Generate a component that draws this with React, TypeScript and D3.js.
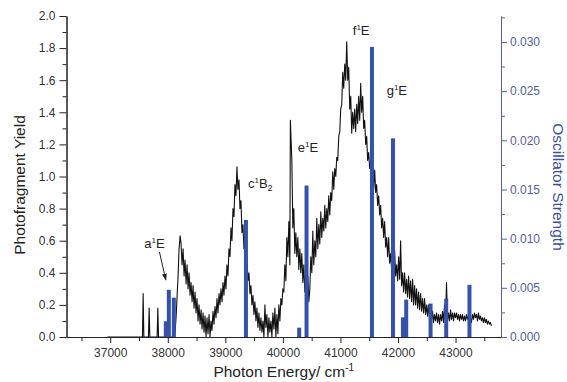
import { useEffect, useRef } from 'react'
import * as d3 from 'd3'

const W = 567
const H = 382
const PLOT = { l: 66.5, r: 501, t: 16, b: 337 }
const FONT = '"Liberation Sans", Arial, Helvetica, sans-serif'
const BLUE = '#3451ad'
const AXIS_BLUE = '#5560a4'

const X_MAJOR = [37000, 38000, 39000, 40000, 41000, 42000, 43000]
const X_MINOR = [36500, 37500, 38500, 39500, 40500, 41500, 42500, 43500]
const Y_MAJOR = [0, 0.2, 0.4, 0.6, 0.8, 1.0, 1.2, 1.4, 1.6, 1.8, 2.0]
const Y_MINOR = [0.1, 0.3, 0.5, 0.7, 0.9, 1.1, 1.3, 1.5, 1.7, 1.9]
const F_MAJOR = [0, 0.005, 0.01, 0.015, 0.02, 0.025, 0.03]
const F_MINOR = [0.0025, 0.0075, 0.0125, 0.0175, 0.0225, 0.0275, 0.0325]

// calculated transitions (energy in cm-1, oscillator strength)
const BAR_E = [37966, 38018, 38105, 39358, 40283, 40411, 41548, 41913, 42086, 42143, 42566, 42838, 43242]
const BAR_F = [0.0016, 0.0048, 0.004, 0.0119, 0.00095, 0.0154, 0.0295, 0.0202, 0.002, 0.0038, 0.0034, 0.0039, 0.0053]

// measured photofragment yield spectrum (energy, yield)
const SPECTRUM: [number, number][] = [
  [36950, 0], [37560, 0], [37572, 0.27], [37584, 0], [37664, 0], [37676, 0.18], [37688, 0],
  [37815, 0], [37827, 0.18], [37839, 0], [38120, 0],
  [38144, 0.12], [38161, 0.25], [38179, 0.38], [38196, 0.55], [38214, 0.63], [38231, 0.58], [38248, 0.45],
  [38266, 0.55], [38283, 0.38], [38300, 0.48], [38318, 0.33], [38335, 0.45], [38352, 0.3], [38370, 0.4],
  [38387, 0.26], [38404, 0.34], [38422, 0.22], [38439, 0.32], [38456, 0.18], [38474, 0.28], [38491, 0.15],
  [38508, 0.24], [38526, 0.1], [38543, 0.2], [38561, 0.08], [38578, 0.17], [38595, 0.05], [38613, 0.15],
  [38630, 0.03], [38647, 0.13], [38665, 0.0], [38682, 0.12], [38699, 0.02], [38717, 0.14], [38734, 0.0],
  [38751, 0.1], [38768, 0.04], [38786, 0.16], [38803, 0.08], [38820, 0.19], [38838, 0.12], [38855, 0.24],
  [38872, 0.15], [38890, 0.27], [38907, 0.2], [38924, 0.3], [38942, 0.22], [38959, 0.34], [38976, 0.26],
  [38994, 0.38], [39011, 0.3], [39028, 0.45], [39046, 0.38], [39063, 0.55], [39081, 0.5], [39098, 0.68],
  [39115, 0.6], [39133, 0.8], [39150, 0.75], [39167, 0.95], [39185, 0.88], [39202, 1.06], [39219, 0.92],
  [39237, 0.98], [39254, 0.8], [39271, 0.85], [39289, 0.65], [39306, 0.7], [39323, 0.55], [39341, 0.6],
  [39358, 0.45], [39375, 0.5], [39393, 0.35], [39410, 0.4], [39428, 0.27], [39445, 0.32], [39462, 0.2],
  [39480, 0.26], [39497, 0.14], [39514, 0.22], [39532, 0.1], [39549, 0.18], [39566, 0.06], [39584, 0.15],
  [39601, 0.04], [39618, 0.12], [39636, 0.03], [39653, 0.1], [39670, 0.0], [39688, 0.2], [39705, 0.06],
  [39722, 0.14], [39740, 0.0], [39757, 0.12], [39774, 0.03], [39792, 0.1], [39809, 0.0], [39826, 0.15],
  [39844, 0.05], [39861, 0.18], [39878, 0.0], [39896, 0.14], [39913, 0.02], [39930, 0.2], [39948, 0.1],
  [39965, 0.24], [39982, 0.2], [40000, 0.3], [40017, 0.28], [40034, 0.45], [40052, 0.35], [40069, 0.62],
  [40086, 0.5], [40104, 0.72], [40121, 0.45], [40130, 1.35], [40156, 1.1], [40173, 0.68], [40190, 0.8],
  [40208, 0.52], [40225, 0.65], [40242, 0.5], [40260, 0.62], [40277, 0.42], [40295, 0.55], [40312, 0.4],
  [40329, 0.52], [40347, 0.34], [40364, 0.45], [40381, 0.28], [40399, 0.42], [40416, 0.3], [40433, 0.38],
  [40451, 0.22], [40468, 0.3], [40485, 0.5], [40503, 0.4], [40520, 0.66], [40537, 0.45], [40555, 0.6],
  [40572, 0.5], [40589, 0.74], [40607, 0.55], [40624, 0.7], [40641, 0.58], [40659, 0.78], [40676, 0.62],
  [40693, 0.74], [40711, 0.66], [40728, 0.82], [40745, 0.68], [40763, 0.8], [40780, 0.72], [40797, 0.88],
  [40815, 0.76], [40832, 0.9], [40849, 0.85], [40867, 1.03], [40884, 0.92], [40901, 1.05], [40919, 1.0],
  [40936, 1.12], [40953, 1.1], [40971, 1.25], [40988, 1.28], [41005, 1.42], [41023, 1.45], [41040, 1.65],
  [41057, 1.55], [41075, 1.7], [41092, 1.6], [41109, 1.84], [41127, 1.6], [41144, 1.68], [41162, 1.42],
  [41179, 1.5], [41196, 1.27], [41213, 1.4], [41231, 1.3], [41248, 1.42], [41265, 1.28], [41283, 1.45],
  [41300, 1.33], [41317, 1.5], [41335, 1.35], [41352, 1.58], [41369, 1.4], [41387, 1.5], [41404, 1.3],
  [41421, 1.35], [41439, 1.2], [41456, 1.25], [41473, 1.1], [41491, 1.15], [41508, 1.05], [41525, 1.08],
  [41543, 0.98], [41560, 1.0], [41577, 0.92], [41595, 1.04], [41612, 0.9], [41629, 0.95], [41647, 0.82],
  [41664, 0.88], [41682, 0.76], [41699, 0.82], [41716, 0.68], [41734, 0.74], [41751, 0.62], [41768, 0.72],
  [41786, 0.56], [41803, 0.62], [41820, 0.5], [41838, 0.62], [41855, 0.46], [41872, 0.52], [41890, 0.42],
  [41907, 0.5], [41924, 0.4], [41942, 0.54], [41959, 0.38], [41976, 0.45], [41994, 0.35], [42011, 0.5],
  [42029, 0.36], [42046, 0.6], [42063, 0.32], [42081, 0.4], [42098, 0.28], [42115, 0.4], [42133, 0.27],
  [42150, 0.36], [42167, 0.25], [42185, 0.38], [42202, 0.24], [42219, 0.35], [42237, 0.22], [42254, 0.36],
  [42271, 0.2], [42289, 0.32], [42306, 0.2], [42323, 0.3], [42341, 0.18], [42358, 0.28], [42375, 0.17],
  [42393, 0.27], [42410, 0.16], [42427, 0.24], [42445, 0.15], [42462, 0.24], [42479, 0.14], [42497, 0.2],
  [42514, 0.13], [42531, 0.2], [42549, 0.12], [42566, 0.17], [42583, 0.11], [42601, 0.16], [42618, 0.09],
  [42635, 0.14], [42653, 0.1], [42670, 0.15], [42687, 0.09], [42705, 0.14], [42722, 0.08], [42739, 0.14],
  [42757, 0.1], [42774, 0.16], [42791, 0.09], [42809, 0.2], [42826, 0.1], [42843, 0.34], [42861, 0.1],
  [42878, 0.15], [42896, 0.1], [42913, 0.17], [42930, 0.11], [42948, 0.15], [42965, 0.1], [42982, 0.15],
  [43000, 0.12], [43017, 0.15], [43034, 0.11], [43052, 0.14], [43069, 0.1], [43086, 0.14], [43104, 0.11],
  [43121, 0.14], [43138, 0.1], [43156, 0.13], [43173, 0.1], [43190, 0.14], [43208, 0.11], [43225, 0.13],
  [43242, 0.1], [43260, 0.12], [43277, 0.09], [43294, 0.14], [43312, 0.11], [43329, 0.15], [43346, 0.12],
  [43364, 0.14], [43381, 0.1], [43398, 0.15], [43416, 0.11], [43433, 0.13], [43450, 0.1], [43468, 0.12],
  [43485, 0.09], [43502, 0.12], [43520, 0.09], [43537, 0.11], [43554, 0.08], [43572, 0.1], [43589, 0.08],
  [43606, 0.09], [43624, 0.07],
]

// state labels: main letter, superscript, rest, subscript; anchored at (energy, yield)
const STATE_TEXT = [['a', '1', 'E', ''], ['c', '1', 'B', '2'], ['e', '1', 'E', ''], ['f', '1', 'E', ''], ['g', '1', 'E', '']]
const STATE_E = [37590, 39393, 40260, 41214, 41803]
const STATE_Y = [0.555, 0.93, 1.15, 1.88, 1.51]
const ARROW_E = [37855, 37966]
const ARROW_Y = [0.53, 0.355]

export default function App() {
  const svgRef = useRef<SVGSVGElement>(null)

  useEffect(() => {
    const svg = d3.select(svgRef.current)
    svg.selectAll('*').remove()

    const x = d3.scaleLinear().domain([36240, 43790]).range([PLOT.l, PLOT.r])
    const y = d3.scaleLinear().domain([0, 2]).range([PLOT.b, PLOT.t])
    const yF = d3.scaleLinear().domain([0, 0.03264]).range([PLOT.b, PLOT.t])

    svg.append('rect').attr('width', W).attr('height', H).attr('fill', '#fff')

    const defs = svg.append('defs')
    defs.append('marker').attr('id', 'arr').attr('viewBox', '0 0 10 10').attr('refX', 9).attr('refY', 5)
      .attr('markerWidth', 7).attr('markerHeight', 7).attr('orient', 'auto')
      .append('path').attr('d', 'M0,1.5 L10,5 L0,8.5 Z').attr('fill', '#222')

    // spectrum
    const line = d3.line<[number, number]>().x((d) => x(d[0])).y((d) => y(d[1]))
    svg.append('path').datum(SPECTRUM).attr('d', line).attr('fill', 'none').attr('stroke', '#111')
      .attr('stroke-width', 1.1).attr('stroke-linejoin', 'round')

    // oscillator strength sticks
    BAR_E.forEach((e, i) => {
      svg.append('rect').attr('x', x(e) - 2).attr('width', 4)
        .attr('y', yF(BAR_F[i])).attr('height', yF(0) - yF(BAR_F[i])).attr('fill', BLUE)
    })

    const styleAxis = (a: d3.Selection<SVGGElement, unknown, null, undefined>, col: string, txt: string) => {
      a.select('.domain').attr('stroke', col).attr('stroke-width', 1)
      a.selectAll('.tick line').attr('stroke', col)
      a.selectAll('.tick text').attr('fill', txt).attr('font-size', '12px').attr('font-family', FONT)
    }

    // bottom axis
    svg.append('g').attr('transform', `translate(0,${PLOT.b})`)
      .call(d3.axisBottom(x).tickValues(X_MINOR).tickSize(4).tickFormat(() => '').tickSizeOuter(0))
      .call((a) => styleAxis(a, '#222', '#333'))
    svg.append('g').attr('transform', `translate(0,${PLOT.b})`)
      .call(d3.axisBottom(x).tickValues(X_MAJOR).tickSize(6).tickPadding(5).tickFormat(d3.format('d')).tickSizeOuter(0))
      .call((a) => styleAxis(a, '#222', '#333'))

    // left axis
    svg.append('g').attr('transform', `translate(${PLOT.l},0)`)
      .call(d3.axisLeft(y).tickValues(Y_MINOR).tickSize(4).tickFormat(() => '').tickSizeOuter(0))
      .call((a) => styleAxis(a, '#222', '#333'))
    svg.append('g').attr('transform', `translate(${PLOT.l},0)`)
      .call(d3.axisLeft(y).tickValues(Y_MAJOR).tickSize(7).tickPadding(4).tickFormat(d3.format('.1f')).tickSizeOuter(0))
      .call((a) => styleAxis(a, '#222', '#333'))

    // right axis
    svg.append('g').attr('transform', `translate(${PLOT.r},0)`)
      .call(d3.axisRight(yF).tickValues(F_MINOR).tickSize(4).tickFormat(() => '').tickSizeOuter(0))
      .call((a) => styleAxis(a, AXIS_BLUE, AXIS_BLUE))
    svg.append('g').attr('transform', `translate(${PLOT.r},0)`)
      .call(d3.axisRight(yF).tickValues(F_MAJOR).tickSize(6).tickPadding(3).tickFormat(d3.format('.3f')).tickSizeOuter(0))
      .call((a) => styleAxis(a, AXIS_BLUE, AXIS_BLUE))

    // axis titles
    const xt = svg.append('text').attr('x', (PLOT.l + PLOT.r) / 2).attr('y', 377).attr('text-anchor', 'middle')
      .attr('font-family', FONT).attr('font-size', '15.5px').attr('fill', '#222')
    xt.append('tspan').text('Photon Energy/ cm')
    xt.append('tspan').attr('dy', -6).attr('font-size', '10px').text('-1')

    svg.append('text').attr('transform', `translate(25,185) rotate(-90)`)
      .attr('text-anchor', 'middle').attr('font-family', FONT).attr('font-size', '15.5px').attr('fill', '#222')
      .text('Photofragment Yield')

    svg.append('text').attr('transform', `translate(553,187) rotate(90)`)
      .attr('text-anchor', 'middle').attr('font-family', FONT).attr('font-size', '15.5px').attr('fill', '#3a4ea6')
      .text('Oscillator Strength')

    // state labels
    STATE_TEXT.forEach((parts, i) => {
      const t = svg.append('text').attr('x', x(STATE_E[i])).attr('y', y(STATE_Y[i]))
        .attr('font-family', FONT).attr('font-size', '13px').attr('fill', '#222')
      t.append('tspan').text(parts[0])
      t.append('tspan').attr('dy', -5).attr('font-size', '8px').text(parts[1])
      t.append('tspan').attr('dy', 5).text(parts[2])
      if (parts[3]) t.append('tspan').attr('dy', 3).attr('font-size', '9px').text(parts[3])
    })

    svg.append('line').attr('x1', x(ARROW_E[0])).attr('y1', y(ARROW_Y[0]))
      .attr('x2', x(ARROW_E[1])).attr('y2', y(ARROW_Y[1]))
      .attr('stroke', '#222').attr('stroke-width', 1).attr('marker-end', 'url(#arr)')
  }, [])

  return (
    <svg ref={svgRef} width={W} height={H} style={{ position: 'fixed', top: 0, left: 0, display: 'block' }} />
  )
}
